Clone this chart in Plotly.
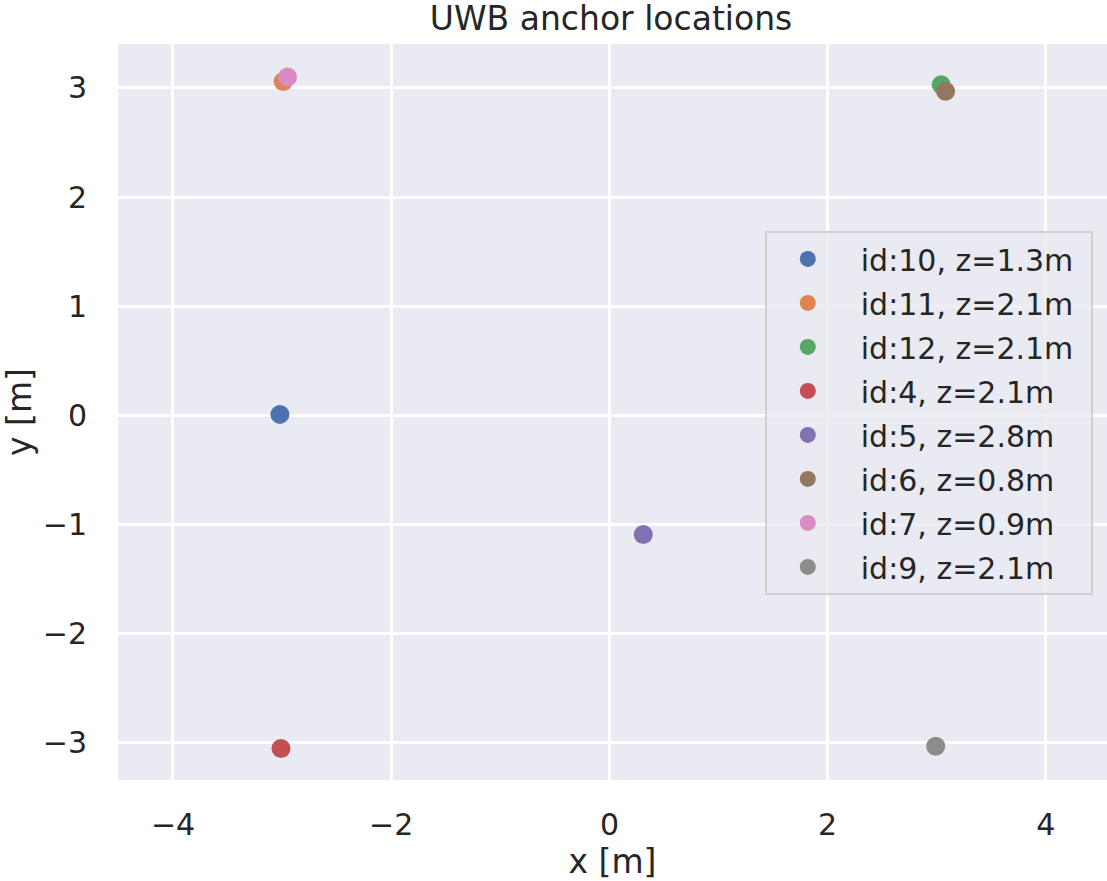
import plotly.graph_objects as go

labels = ["id:10, z=1.3m", "id:11, z=2.1m", "id:12, z=2.1m", "id:4, z=2.1m",
          "id:5, z=2.8m", "id:6, z=0.8m", "id:7, z=0.9m", "id:9, z=2.1m"]
x_vals = [-3.02, -2.99, 3.04, -3.01, 0.31, 3.08, -2.95, 2.99]
y_vals = [0.01, 3.06, 3.03, -3.05, -1.09, 2.97, 3.10, -3.03]
colors = ["#4C72B0", "#DD8452", "#55A868", "#C44E52",
          "#8172B3", "#937860", "#DA8BC3", "#8C8C8C"]
x_ticks = [-4, -2, 0, 2, 4]
x_ticktext = ["\u22124", "\u22122", "0", "2", "4"]
y_ticks = [-3, -2, -1, 0, 1, 2, 3]
y_ticktext = ["\u22123", "\u22122", "\u22121", "0", "1", "2", "3"]

FONT = "DejaVu Sans"
TXT = "#262626"

fig = go.Figure()
for i, (lab, xv, yv, c) in enumerate(zip(labels, x_vals, y_vals, colors)):
    fig.add_trace(go.Scatter(x=[xv], y=[yv], mode="markers",
                             name="\u2009\u2009" + lab + "\u2009\u2009",
                             legendgroup=str(i),
                             marker=dict(color=c, size=19, line=dict(width=0))))

fig.update_layout(
    width=1107, height=881,
    margin=dict(l=118, r=0, t=44, b=101),
    paper_bgcolor="white", plot_bgcolor="#EAEAF2",
    font=dict(family=FONT, size=30, color=TXT),
    title=dict(text="UWB anchor locations", x=0.552, xanchor="center",
               y=0.979, yanchor="middle", font=dict(size=33, color=TXT)),
    xaxis=dict(range=[-4.504, 4.56], tickvals=x_ticks, ticktext=x_ticktext,
               showgrid=True, gridcolor="white", gridwidth=2.5, zeroline=False,
               showline=False, ticks="", ticklabelstandoff=24, automargin=False,
               tickfont=dict(size=30),
               title=dict(text="x [m]", font=dict(size=33), standoff=18)),
    yaxis=dict(range=[-3.339, 3.403], tickvals=y_ticks, ticktext=y_ticktext,
               showgrid=True, gridcolor="white", gridwidth=2.5, zeroline=False,
               showline=False, ticks="", ticklabelstandoff=30, automargin=False,
               tickfont=dict(size=30),
               title=dict(text="y [m]", font=dict(size=33), standoff=12)),
    legend=dict(x=0.654, y=0.746, xanchor="left", yanchor="top",
                bgcolor="rgba(234,234,242,0.8)", bordercolor="#D0D0D0", borderwidth=2,
                font=dict(size=30, color=TXT), itemsizing="trace", itemwidth=72,
                tracegroupgap=2),
    showlegend=True,
)
fig.write_html("out.html", config={"displayModeBar": False},
               post_script="document.body.style.margin='0px';")
